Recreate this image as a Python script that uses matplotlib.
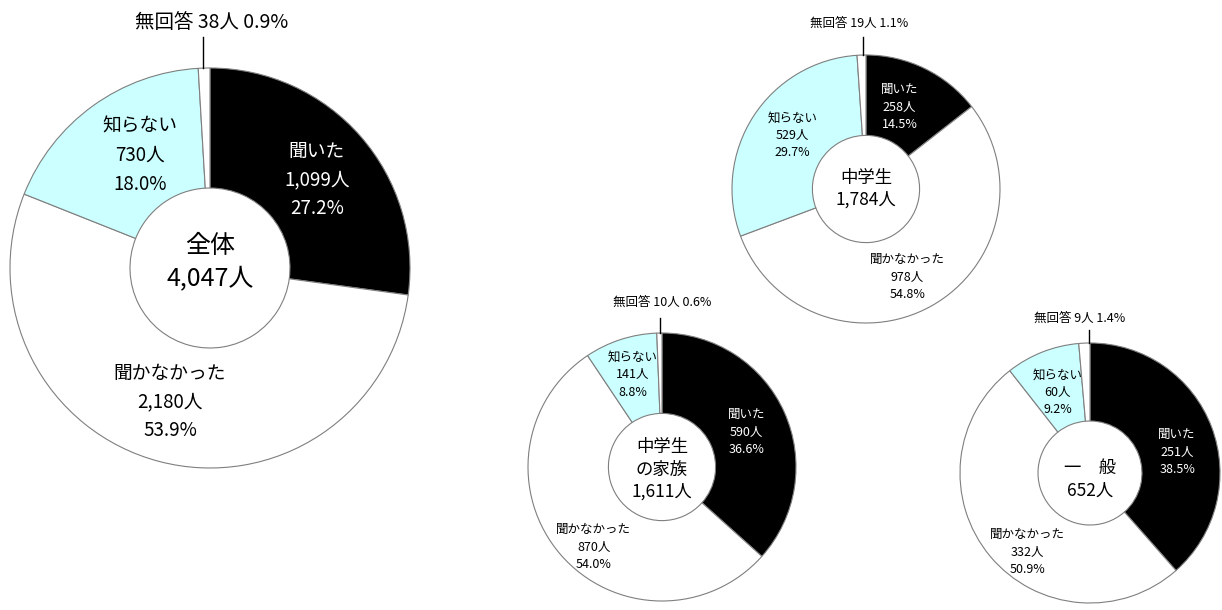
import matplotlib.pyplot as plt

plt.rcParams['font.family'] = ['Noto Sans CJK JP', 'DejaVu Sans']

categories = ['聞いた', '聞かなかった', '知らない', '無回答']
group_names = ['全体', '中学生', '中学生\nの家族', '一　般']
counts_all = [1099, 2180, 730, 38]
counts_student = [258, 978, 529, 19]
counts_family = [590, 870, 141, 10]
counts_general = [251, 332, 60, 9]

colors = ['black', 'white', '#ccffff', 'white']
text_colors = ['white', 'black', 'black', 'black']

# layout: center (px), radius (px), label offsets (in radii), font sizes
charts = [
    dict(counts=counts_all, c=(210, 268), r=200,
         offs=[(0.535, 0.44), (-0.2, -0.67), (-0.35, 0.565)],
         na=(212, 22), na_line=(203, 37), fs=13.5, cfs=18, nafs=14, cdy=0.03, ls=1.5),
    dict(counts=counts_student, c=(866, 189), r=134,
         offs=[(0.25, 0.61), (0.31, -0.66), (-0.55, 0.40)],
         na=(859, 23), na_line=(863, 37), fs=9, cfs=12.5, nafs=9, cdy=0.0, ls=1.45),
    dict(counts=counts_family, c=(662, 467), r=134,
         offs=[(0.63, 0.26), (-0.51, -0.60), (-0.22, 0.69)],
         na=(662, 302), na_line=(660, 318), fs=9, cfs=12.5, nafs=9, cdy=-0.02, ls=1.45),
    dict(counts=counts_general, c=(1090, 473), r=130,
         offs=[(0.67, 0.16), (-0.48, -0.61), (-0.25, 0.62)],
         na=(1080, 318), na_line=(1089, 330), fs=9, cfs=12.5, nafs=9, cdy=-0.05, ls=1.45),
]

H = 610
fig = plt.figure(figsize=(12.22, 6.10), dpi=100)
ax = fig.add_axes([0, 0, 1, 1])

for name, ch in zip(group_names, charts):
    cx, cy = ch['c'][0], H - ch['c'][1]
    r = ch['r']
    vals = ch['counts']
    total = sum(vals)
    ax.pie(vals, startangle=90, counterclock=False, colors=colors,
           radius=r, center=(cx, cy),
           wedgeprops=dict(width=r * 0.6, edgecolor='#7f7f7f', linewidth=0.8))
    for i in range(3):
        dx, dy = ch['offs'][i]
        lab = f'{categories[i]}\n{vals[i]:,}人\n{vals[i] / total * 100:.1f}%'
        ax.text(cx + dx * r, cy + dy * r, lab, ha='center', va='center',
                fontsize=ch['fs'], color=text_colors[i], linespacing=ch['ls'])
    ax.text(cx, cy + ch['cdy'] * r, f'{name}\n{total:,}人', ha='center', va='center',
            fontsize=ch['cfs'], linespacing=1.3)
    nx, ny = ch['na']
    ax.text(nx, H - ny, f'{categories[3]} {vals[3]}人 {vals[3] / total * 100:.1f}%',
            ha='center', va='center', fontsize=ch['nafs'])
    lx, ly = ch['na_line']
    ax.plot([lx, lx], [H - ly, cy + r], color='black', linewidth=1)

ax.set_xlim(0, 1222)
ax.set_ylim(0, H)
ax.set_aspect('equal')
ax.axis('off')

fig.savefig('out.png', dpi=100, facecolor='white')
